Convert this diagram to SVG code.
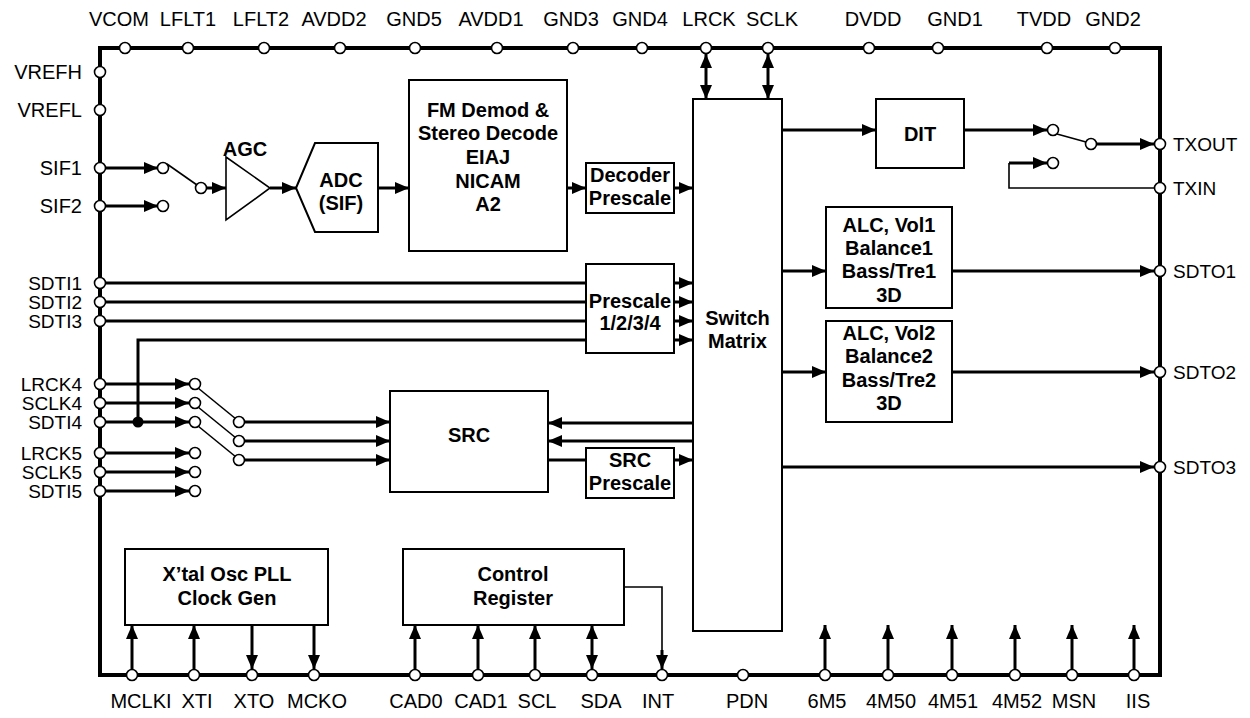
<svg xmlns="http://www.w3.org/2000/svg" width="1250" height="718" viewBox="0 0 1250 718">
<style>
text{font-family:"Liberation Sans",Arial,sans-serif;fill:#000}
.pt{font-size:20px;text-anchor:middle}
.pr{font-size:19px}
.pL{font-size:20px;text-anchor:end}
.pS{font-size:19px;text-anchor:end}
.b{font-size:20px;font-weight:bold;text-anchor:middle}
.box{fill:#fff;stroke:#000;stroke-width:2}
.w{fill:none;stroke:#000;stroke-width:3}
.t{fill:none;stroke:#000;stroke-width:1.6}
.pin{fill:#fff;stroke:#000;stroke-width:1.6}
</style>
<defs>
<marker id="ah" viewBox="0 0 14 12" markerWidth="14" markerHeight="12" refX="14" refY="6" orient="auto" markerUnits="userSpaceOnUse"><path d="M0,0 L14,6 L0,12 z"/></marker>
<marker id="as" viewBox="0 0 14 12" markerWidth="14" markerHeight="12" refX="14" refY="6" orient="auto-start-reverse" markerUnits="userSpaceOnUse"><path d="M0,0 L14,6 L0,12 z"/></marker>
</defs>
<rect width="1250" height="718" fill="#fff"/>
<g id="package"><rect x="100" y="48" width="1060" height="627" fill="none" stroke="#000" stroke-width="4"/></g>

<g id="connectors">
<line class="w" x1="100" y1="168" x2="158" y2="168" marker-end="url(#ah)"/>
<line class="w" x1="100" y1="206" x2="158" y2="206" marker-end="url(#ah)"/>
<line class="t" x1="167" y1="164" x2="197" y2="185"/>
<line class="w" x1="206" y1="188" x2="226" y2="188" marker-end="url(#ah)"/>
<line class="w" x1="270" y1="188" x2="296" y2="188" marker-end="url(#ah)"/>
<line class="w" x1="378" y1="188" x2="409" y2="188" marker-end="url(#ah)"/>
<line class="w" x1="567" y1="188" x2="586" y2="188" marker-end="url(#ah)"/>
<line class="w" x1="674" y1="188" x2="693" y2="188" marker-end="url(#ah)"/>
<line class="w" x1="706" y1="54" x2="706" y2="99" marker-start="url(#as)" marker-end="url(#as)"/>
<line class="w" x1="768" y1="54" x2="768" y2="99" marker-start="url(#as)" marker-end="url(#as)"/>
<line class="w" x1="100" y1="283" x2="586" y2="283"/>
<line class="w" x1="100" y1="302" x2="586" y2="302"/>
<line class="w" x1="100" y1="321" x2="586" y2="321"/>
<polyline class="w" points="138,422 138,340 586,340"/>
<line class="w" x1="674" y1="283" x2="693" y2="283" marker-end="url(#ah)"/>
<line class="w" x1="674" y1="302" x2="693" y2="302" marker-end="url(#ah)"/>
<line class="w" x1="674" y1="321" x2="693" y2="321" marker-end="url(#ah)"/>
<line class="w" x1="674" y1="340" x2="693" y2="340" marker-end="url(#ah)"/>
<line class="w" x1="100" y1="384" x2="189" y2="384" marker-end="url(#ah)"/>
<line class="w" x1="100" y1="403" x2="189" y2="403" marker-end="url(#ah)"/>
<line class="w" x1="100" y1="422" x2="189" y2="422" marker-end="url(#ah)"/>
<line class="w" x1="100" y1="453" x2="189" y2="453" marker-end="url(#ah)"/>
<line class="w" x1="100" y1="472" x2="189" y2="472" marker-end="url(#ah)"/>
<line class="w" x1="100" y1="491" x2="189" y2="491" marker-end="url(#ah)"/>
<line class="t" x1="198" y1="388" x2="236" y2="419"/>
<line class="t" x1="198" y1="407" x2="236" y2="438"/>
<line class="t" x1="198" y1="426" x2="236" y2="457"/>
<line class="w" x1="244" y1="422" x2="390" y2="422" marker-end="url(#ah)"/>
<line class="w" x1="244" y1="441" x2="390" y2="441" marker-end="url(#ah)"/>
<line class="w" x1="244" y1="460" x2="390" y2="460" marker-end="url(#ah)"/>
<line class="w" x1="693" y1="423" x2="548" y2="423" marker-end="url(#ah)"/>
<line class="w" x1="693" y1="441" x2="548" y2="441" marker-end="url(#ah)"/>
<line class="w" x1="548" y1="460" x2="586" y2="460"/>
<line class="w" x1="674" y1="460" x2="693" y2="460" marker-end="url(#ah)"/>
<line class="w" x1="782" y1="130" x2="876" y2="130" marker-end="url(#ah)"/>
<line class="w" x1="964" y1="130" x2="1047" y2="130" marker-end="url(#ah)"/>
<line class="t" x1="1057" y1="134" x2="1086" y2="142"/>
<line class="w" x1="1096" y1="144" x2="1154" y2="144" marker-end="url(#ah)"/>
<line class="w" x1="1009" y1="163" x2="1047" y2="163" marker-end="url(#ah)"/>
<polyline class="t" points="1009,163 1009,188 1155,188"/>
<line class="w" x1="782" y1="271" x2="826" y2="271" marker-end="url(#ah)"/>
<line class="w" x1="952" y1="271" x2="1154" y2="271" marker-end="url(#ah)"/>
<line class="w" x1="782" y1="372" x2="826" y2="372" marker-end="url(#ah)"/>
<line class="w" x1="952" y1="372" x2="1154" y2="372" marker-end="url(#ah)"/>
<line class="w" x1="782" y1="467" x2="1154" y2="467" marker-end="url(#ah)"/>
<line class="w" x1="132" y1="670" x2="132" y2="625" marker-end="url(#ah)"/>
<line class="w" x1="194" y1="670" x2="194" y2="625" marker-end="url(#ah)"/>
<line class="w" x1="252" y1="625" x2="252" y2="669" marker-end="url(#ah)"/>
<line class="w" x1="314" y1="625" x2="314" y2="669" marker-end="url(#ah)"/>
<line class="w" x1="415" y1="670" x2="415" y2="625" marker-end="url(#ah)"/>
<line class="w" x1="478" y1="670" x2="478" y2="625" marker-end="url(#ah)"/>
<line class="w" x1="535" y1="670" x2="535" y2="625" marker-end="url(#ah)"/>
<line class="w" x1="592" y1="669" x2="592" y2="625" marker-start="url(#as)" marker-end="url(#as)"/>
<polyline class="t" points="624,587 662,587 662,652"/>
<line class="w" x1="662" y1="650" x2="662" y2="669" marker-end="url(#ah)"/>
<line class="w" x1="825" y1="670" x2="825" y2="625" marker-end="url(#ah)"/>
<line class="w" x1="888" y1="670" x2="888" y2="625" marker-end="url(#ah)"/>
<line class="w" x1="952" y1="670" x2="952" y2="625" marker-end="url(#ah)"/>
<line class="w" x1="1015" y1="670" x2="1015" y2="625" marker-end="url(#ah)"/>
<line class="w" x1="1072" y1="670" x2="1072" y2="625" marker-end="url(#ah)"/>
<line class="w" x1="1134" y1="670" x2="1134" y2="625" marker-end="url(#ah)"/>
<circle cx="138" cy="422" r="5.5" fill="#000"/>
</g>

<g id="agc"><polygon points="226,157 270,188 226,220" fill="#fff" stroke="#000" stroke-width="1.6"/><text class="b" x="245" y="156">AGC</text></g>
<g id="adc"><polygon points="296,188 315,143 378,143 378,232 315,232" class="box"/><text class="b" x="341" y="187">ADC</text><text class="b" x="341" y="210">(SIF)</text></g>
<g id="fm"><rect class="box" x="409" y="80" width="158" height="171"/>
<text class="b" x="488" y="117">FM Demod &amp;</text><text class="b" x="488" y="140">Stereo Decode</text><text class="b" x="488" y="164">EIAJ</text><text class="b" x="488" y="188">NICAM</text><text class="b" x="488" y="211">A2</text></g>
<g id="decpre"><rect class="box" x="586" y="163" width="88" height="50"/><text class="b" x="630" y="182">Decoder</text><text class="b" x="630" y="205">Prescale</text></g>
<g id="prescale"><rect class="box" x="586" y="264" width="88" height="89"/><text class="b" x="630" y="308">Prescale</text><text class="b" x="630" y="330">1/2/3/4</text></g>
<g id="switch"><rect class="box" x="693" y="99" width="89" height="532"/><text class="b" x="737.5" y="325">Switch</text><text class="b" x="737.5" y="348">Matrix</text></g>
<g id="src"><rect class="box" x="390" y="391" width="158" height="101"/><text class="b" x="469" y="442">SRC</text></g>
<g id="srcpre"><rect class="box" x="586" y="448" width="88" height="50"/><text class="b" x="630" y="467">SRC</text><text class="b" x="630" y="490">Prescale</text></g>
<g id="dit"><rect class="box" x="876" y="99" width="88" height="69"/><text class="b" x="920" y="141">DIT</text></g>
<g id="alc1"><rect class="box" x="826" y="207" width="126" height="101"/><text class="b" x="889" y="232">ALC, Vol1</text><text class="b" x="889" y="255">Balance1</text><text class="b" x="889" y="278">Bass/Tre1</text><text class="b" x="889" y="302">3D</text></g>
<g id="alc2"><rect class="box" x="826" y="321" width="126" height="101"/><text class="b" x="889" y="340">ALC, Vol2</text><text class="b" x="889" y="363">Balance2</text><text class="b" x="889" y="387">Bass/Tre2</text><text class="b" x="889" y="410">3D</text></g>
<g id="xtal"><rect class="box" x="125" y="549" width="203" height="76"/><text class="b" x="227" y="581">X’tal Osc PLL</text><text class="b" x="227" y="605">Clock Gen</text></g>
<g id="ctrl"><rect class="box" x="403" y="549" width="221" height="76"/><text class="b" x="513" y="581">Control</text><text class="b" x="513" y="605">Register</text></g>

<g id="switch-contacts">
<circle class="pin" cx="163" cy="168" r="5.5"/><circle class="pin" cx="163" cy="206" r="5.5"/><circle class="pin" cx="201" cy="188" r="5.5"/>
<circle class="pin" cx="195" cy="384" r="5.5"/><circle class="pin" cx="195" cy="403" r="5.5"/><circle class="pin" cx="195" cy="422" r="5.5"/>
<circle class="pin" cx="195" cy="453" r="5.5"/><circle class="pin" cx="195" cy="472" r="5.5"/><circle class="pin" cx="195" cy="491" r="5.5"/>
<circle class="pin" cx="239" cy="422" r="5.5"/><circle class="pin" cx="239" cy="441" r="5.5"/><circle class="pin" cx="239" cy="460" r="5.5"/>
<circle class="pin" cx="1053" cy="130" r="5.5"/><circle class="pin" cx="1091" cy="144" r="5.5"/><circle class="pin" cx="1053" cy="163" r="5.5"/>
</g>

<g id="pins-top">
<circle class="pin" cx="125" cy="48" r="5.5"/><circle class="pin" cx="188" cy="48" r="5.5"/><circle class="pin" cx="264" cy="48" r="5.5"/><circle class="pin" cx="340" cy="48" r="5.5"/><circle class="pin" cx="415" cy="48" r="5.5"/><circle class="pin" cx="497" cy="48" r="5.5"/><circle class="pin" cx="573" cy="48" r="5.5"/><circle class="pin" cx="642" cy="48" r="5.5"/><circle class="pin" cx="706" cy="48" r="5.5"/><circle class="pin" cx="768" cy="48" r="5.5"/><circle class="pin" cx="869" cy="48" r="5.5"/><circle class="pin" cx="938" cy="48" r="5.5"/><circle class="pin" cx="1047" cy="48" r="5.5"/><circle class="pin" cx="1115" cy="48" r="5.5"/>
<text class="pt" x="119" y="26">VCOM</text><text class="pt" x="188" y="26">LFLT1</text><text class="pt" x="261" y="26">LFLT2</text><text class="pt" x="334" y="26">AVDD2</text><text class="pt" x="414" y="26">GND5</text><text class="pt" x="491" y="26">AVDD1</text><text class="pt" x="571" y="26">GND3</text><text class="pt" x="640" y="26">GND4</text><text class="pt" x="709" y="26">LRCK</text><text class="pt" x="772" y="26">SCLK</text><text class="pt" x="873" y="26">DVDD</text><text class="pt" x="955" y="26">GND1</text><text class="pt" x="1044" y="26">TVDD</text><text class="pt" x="1113" y="26">GND2</text>
</g>
<g id="pins-left">
<circle class="pin" cx="100" cy="72" r="5.5"/><circle class="pin" cx="100" cy="110" r="5.5"/><circle class="pin" cx="100" cy="168" r="5.5"/><circle class="pin" cx="100" cy="206" r="5.5"/><circle class="pin" cx="100" cy="283" r="5.5"/><circle class="pin" cx="100" cy="302" r="5.5"/><circle class="pin" cx="100" cy="321" r="5.5"/><circle class="pin" cx="100" cy="384" r="5.5"/><circle class="pin" cx="100" cy="403" r="5.5"/><circle class="pin" cx="100" cy="422" r="5.5"/><circle class="pin" cx="100" cy="453" r="5.5"/><circle class="pin" cx="100" cy="472" r="5.5"/><circle class="pin" cx="100" cy="491" r="5.5"/>
<text class="pL" x="82" y="79">VREFH</text><text class="pL" x="82" y="117">VREFL</text><text class="pL" x="82" y="175">SIF1</text><text class="pL" x="82" y="213">SIF2</text>
<text class="pS" x="82" y="290">SDTI1</text><text class="pS" x="82" y="309">SDTI2</text><text class="pS" x="82" y="328">SDTI3</text><text class="pS" x="82" y="391">LRCK4</text><text class="pS" x="82" y="410">SCLK4</text><text class="pS" x="82" y="429">SDTI4</text><text class="pS" x="82" y="460">LRCK5</text><text class="pS" x="82" y="479">SCLK5</text><text class="pS" x="82" y="498">SDTI5</text>
</g>
<g id="pins-right">
<circle class="pin" cx="1160" cy="144" r="5.5"/><circle class="pin" cx="1160" cy="188" r="5.5"/><circle class="pin" cx="1160" cy="271" r="5.5"/><circle class="pin" cx="1160" cy="372" r="5.5"/><circle class="pin" cx="1160" cy="467" r="5.5"/>
<text class="pr" x="1173" y="151">TXOUT</text><text class="pr" x="1173" y="195">TXIN</text><text class="pr" x="1173" y="278">SDTO1</text><text class="pr" x="1173" y="379">SDTO2</text><text class="pr" x="1173" y="474">SDTO3</text>
</g>
<g id="pins-bottom">
<circle class="pin" cx="132" cy="675" r="5.5"/><circle class="pin" cx="194" cy="675" r="5.5"/><circle class="pin" cx="252" cy="675" r="5.5"/><circle class="pin" cx="314" cy="675" r="5.5"/><circle class="pin" cx="415" cy="675" r="5.5"/><circle class="pin" cx="478" cy="675" r="5.5"/><circle class="pin" cx="535" cy="675" r="5.5"/><circle class="pin" cx="592" cy="675" r="5.5"/><circle class="pin" cx="662" cy="675" r="5.5"/><circle class="pin" cx="743" cy="675" r="5.5"/><circle class="pin" cx="825" cy="675" r="5.5"/><circle class="pin" cx="888" cy="675" r="5.5"/><circle class="pin" cx="952" cy="675" r="5.5"/><circle class="pin" cx="1015" cy="675" r="5.5"/><circle class="pin" cx="1072" cy="675" r="5.5"/><circle class="pin" cx="1134" cy="675" r="5.5"/>
<text class="pt" x="141" y="708">MCLKI</text><text class="pt" x="197" y="708">XTI</text><text class="pt" x="254" y="708">XTO</text><text class="pt" x="317" y="708">MCKO</text><text class="pt" x="416" y="708">CAD0</text><text class="pt" x="481" y="708">CAD1</text><text class="pt" x="537" y="708">SCL</text><text class="pt" x="601" y="708">SDA</text><text class="pt" x="658" y="708">INT</text><text class="pt" x="747" y="708">PDN</text><text class="pt" x="827" y="708">6M5</text><text class="pt" x="891" y="708">4M50</text><text class="pt" x="953" y="708">4M51</text><text class="pt" x="1017" y="708">4M52</text><text class="pt" x="1074" y="708">MSN</text><text class="pt" x="1138" y="708">IIS</text>
</g>
</svg>
